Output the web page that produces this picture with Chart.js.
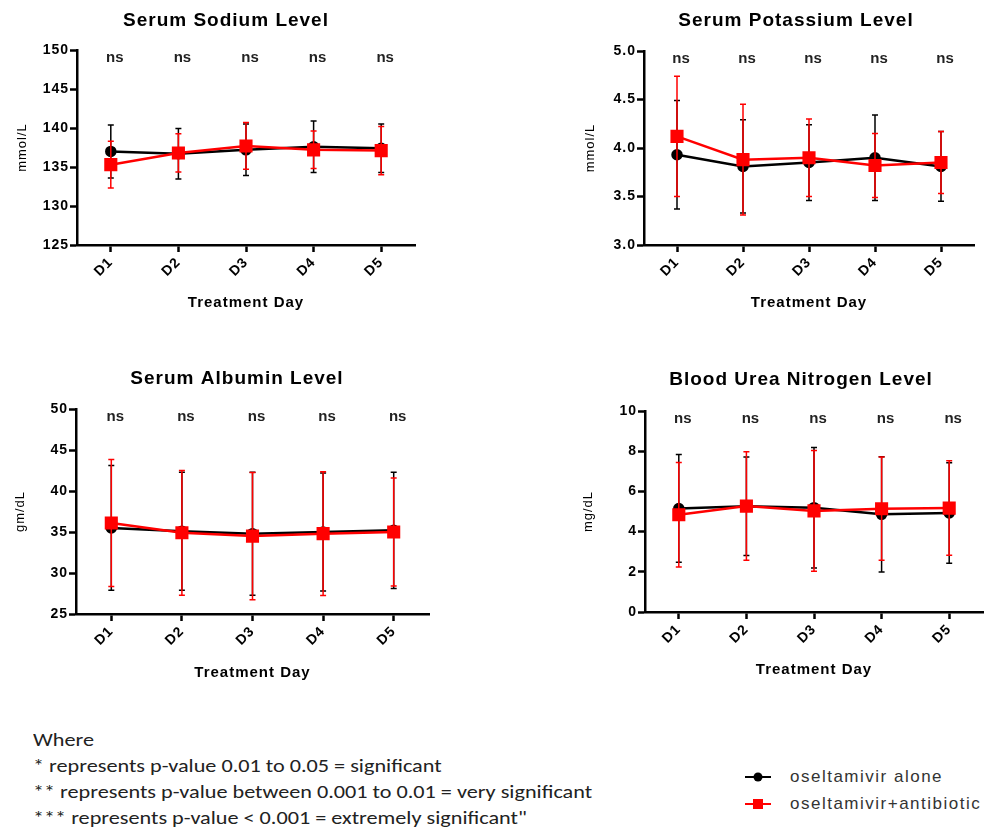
<!DOCTYPE html>
<html lang="en">
<head>
<meta charset="UTF-8">
<title>Serum levels by treatment day</title>
<script src="https://cdn.jsdelivr.net/npm/chart.js"></script>
<style>
    html, body { margin: 0; padding: 0; background: #fff; overflow: hidden; }
    body { width: 984px; height: 829px; position: relative; font-family: "Liberation Sans", Arial, sans-serif; }
    .panel { position: absolute; }
    .notes { position: absolute; left: 33px; top: 727px; font-family: Carlito, Calibri, "Open Sans", sans-serif; font-size: 18px; line-height: 26px; color: #222; white-space: nowrap; transform-origin: 0 0; }
    .legend { position: absolute; left: 745px; top: 763px; font-size: 17px; letter-spacing: 1.5px; color: #333; white-space: nowrap; }
    .legend-row { height: 27px; display: flex; align-items: center; }
    .swatch { position: relative; width: 26px; height: 14px; margin-right: 19px; flex: none; }
    .swatch .ln { position: absolute; left: 0; right: 0; top: 6px; height: 2.5px; }
    .swatch .mk { position: absolute; left: 50%; top: 50%; transform: translate(-50%, -50%); }
</style>
</head>
<body>
<canvas id="sodium" class="panel" width="430" height="320" style="left:0;top:0"></canvas>
<canvas id="potassium" class="panel" width="484" height="320" style="left:500px;top:0"></canvas>
<canvas id="albumin" class="panel" width="440" height="330" style="left:0;top:360px"></canvas>
<canvas id="bun" class="panel" width="493" height="330" style="left:500px;top:360px"></canvas>

<div class="notes" id="notes">
    <div>Where</div>
    <div>* represents p-value 0.01 to 0.05 = significant</div>
    <div id="longNote">** represents p-value between 0.001 to 0.01 = very significant</div>
    <div>*** represents p-value &lt; 0.001 = extremely significant"</div>
</div>
<div class="legend" id="legend"></div>

<script>
    const days = ['D1', 'D2', 'D3', 'D4', 'D5'];
    const seriesNames = ['oseltamivir alone', 'oseltamivir+antibiotic'];
    const seriesColors = ['#000000', '#ff0000'];
    const xTitle = 'Treatment Day';

    // mean and SD per day
    const sodiumAlone = [137.0, 136.7, 137.2, 137.6, 137.4];
    const sodiumAloneSD = [3.4, 3.25, 3.3, 3.3, 3.1];
    const sodiumCombo = [135.3, 136.8, 137.7, 137.2, 137.1];
    const sodiumComboSD = [3.0, 2.45, 3.0, 2.4, 3.1];
    const sodiumSig = ['ns', 'ns', 'ns', 'ns', 'ns'];

    const potassiumAlone = [3.93, 3.81, 3.85, 3.90, 3.81];
    const potassiumAloneSD = [0.56, 0.48, 0.39, 0.44, 0.36];
    const potassiumCombo = [4.12, 3.88, 3.90, 3.82, 3.85];
    const potassiumComboSD = [0.62, 0.57, 0.40, 0.33, 0.32];
    const potassiumSig = ['ns', 'ns', 'ns', 'ns', 'ns'];

    const albuminAlone = [35.5, 35.1, 34.8, 35.0, 35.2];
    const albuminAloneSD = [7.6, 7.2, 7.5, 7.2, 7.1];
    const albuminCombo = [36.1, 34.9, 34.5, 34.8, 35.0];
    const albuminComboSD = [7.75, 7.6, 7.75, 7.55, 6.6];
    const albuminSig = ['ns', 'ns', 'ns', 'ns', 'ns'];

    const bunAlone = [5.15, 5.26, 5.19, 4.86, 4.93];
    const bunAloneSD = [2.68, 2.45, 3.0, 2.87, 2.5];
    const bunCombo = [4.84, 5.27, 5.03, 5.14, 5.17];
    const bunComboSD = [2.6, 2.7, 3.0, 2.57, 2.35];
    const bunSig = ['ns', 'ns', 'ns', 'ns', 'ns'];

    Chart.defaults.font.family = '"Liberation Sans", Arial, sans-serif';
    Chart.defaults.color = '#000';

    // GraphPad-style wide text for title and axes, normal spacing for marks
    const spacingPlugin = {
        id: 'spacing',
        beforeDraw(chart) { chart.ctx.letterSpacing = '1px'; },
        beforeDatasetsDraw(chart) { chart.ctx.letterSpacing = '0px'; }
    };

    const errorBarPlugin = {
        id: 'errorBars',
        afterDatasetDraw(chart, args) {
            const ds = chart.data.datasets[args.index];
            if (!ds.sd) return;
            const y = chart.scales.y;
            const ctx = chart.ctx;
            ctx.save();
            ctx.strokeStyle = ds.borderColor;
            ctx.lineWidth = 1.5;
            args.meta.data.forEach((pt, i) => {
                const top = y.getPixelForValue(ds.data[i] + ds.sd[i]);
                const bot = y.getPixelForValue(ds.data[i] - ds.sd[i]);
                ctx.beginPath();
                ctx.moveTo(pt.x, top); ctx.lineTo(pt.x, bot);
                ctx.moveTo(pt.x - 3, top); ctx.lineTo(pt.x + 3, top);
                ctx.moveTo(pt.x - 3, bot); ctx.lineTo(pt.x + 3, bot);
                ctx.stroke();
            });
            ctx.restore();
        }
    };

    const sigPlugin = {
        id: 'sigLabels',
        afterDatasetsDraw(chart, args, opts) {
            const ctx = chart.ctx;
            const x = chart.scales.x;
            ctx.save();
            ctx.font = 'bold 15px "Liberation Sans", Arial, sans-serif';
            ctx.fillStyle = '#222';
            ctx.textAlign = 'center';
            ctx.textBaseline = 'middle';
            opts.labels.forEach((t, i) => {
                ctx.fillText(t, x.getPixelForValue(i) + 4, chart.chartArea.top + 8);
            });
            ctx.restore();
        }
    };

    function makePanel(id, p) {
        const axisLine = { color: '#000', width: 2.5 };
        const grid = { drawOnChartArea: false, tickLength: 7, tickWidth: 2.5, tickColor: '#000' };
        return new Chart(document.getElementById(id), {
            type: 'line',
            data: {
                labels: days,
                datasets: [{
                    label: seriesNames[0],
                    data: p.alone,
                    sd: p.aloneSD,
                    borderColor: seriesColors[0],
                    backgroundColor: seriesColors[0],
                    borderWidth: 2.5,
                    pointStyle: 'circle',
                    pointRadius: 4.5,
                    order: 1
                }, {
                    label: seriesNames[1],
                    data: p.combo,
                    sd: p.comboSD,
                    borderColor: seriesColors[1],
                    backgroundColor: seriesColors[1],
                    borderWidth: 2.5,
                    pointStyle: 'rect',
                    pointRadius: 7.5,
                    order: 0
                }]
            },
            options: {
                responsive: false,
                animation: false,
                layout: { padding: { left: p.padL, right: p.padR, top: 0, bottom: 0 } },
                plugins: {
                    legend: { display: false },
                    tooltip: { enabled: false },
                    title: {
                        display: true,
                        text: p.title,
                        color: '#000',
                        font: { size: 19, weight: 'bold' },
                        padding: { top: p.titleY - 11.4, bottom: p.top - p.titleY - 11.4 }
                    },
                    sigLabels: { labels: p.sig }
                },
                scales: {
                    x: {
                        offset: true,
                        grid: grid,
                        border: axisLine,
                        ticks: { minRotation: 45, maxRotation: 45, padding: 2, color: '#000', font: { size: 14, weight: 'bold' } },
                        title: { display: true, text: xTitle, color: '#000', font: { size: 15, weight: 'bold' }, padding: { top: 0, bottom: p.xTitlePad } },
                        afterFit(s) { s.height = p.xh; }
                    },
                    y: {
                        min: p.min,
                        max: p.max,
                        grid: grid,
                        border: axisLine,
                        ticks: {
                            stepSize: p.step,
                            padding: 1,
                            color: '#000',
                            font: { size: 14, weight: 'bold' },
                            callback: v => v.toFixed(p.dec)
                        },
                        title: { display: true, text: p.yTitle, color: '#000', font: { size: 13 }, padding: { top: p.yTitleOff - 7.8, bottom: 0 } },
                        afterFit(s) { s.width = p.yw; }
                    }
                }
            },
            plugins: [spacingPlugin, errorBarPlugin, sigPlugin]
        });
    }

    makePanel('sodium', {
        title: 'Serum Sodium Level', yTitle: 'mmol/L', min: 125, max: 150, step: 5, dec: 0,
        alone: sodiumAlone, aloneSD: sodiumAloneSD, combo: sodiumCombo, comboSD: sodiumComboSD, sig: sodiumSig,
        padL: 37, padR: 15, yw: 40, yTitleOff: -15, top: 50, titleY: 21, xh: 75, xTitlePad: 8
    });
    makePanel('potassium', {
        title: 'Serum Potassium Level', yTitle: 'mmol/L', min: 3, max: 5, step: 0.5, dec: 1,
        alone: potassiumAlone, aloneSD: potassiumAloneSD, combo: potassiumCombo, comboSD: potassiumComboSD, sig: potassiumSig,
        padL: 110, padR: 2, yw: 34, yTitleOff: -20, top: 51, titleY: 21, xh: 75, xTitlePad: 8
    });
    makePanel('albumin', {
        title: 'Serum Albumin Level', yTitle: 'gm/dL', min: 25, max: 50, step: 5, dec: 0,
        alone: albuminAlone, aloneSD: albuminAloneSD, combo: albuminCombo, comboSD: albuminComboSD, sig: albuminSig,
        padL: 45, padR: 11, yw: 31, yTitleOff: -25, top: 49, titleY: 19, xh: 76, xTitlePad: 8
    });
    makePanel('bun', {
        title: 'Blood Urea Nitrogen Level', yTitle: 'mg/dL', min: 0, max: 10, step: 2, dec: 0,
        alone: bunAlone, aloneSD: bunAloneSD, combo: bunCombo, comboSD: bunComboSD, sig: bunSig,
        padL: 109, padR: 0, yw: 36, yTitleOff: -21, top: 51, titleY: 20, xh: 78, xTitlePad: 11
    });

    // the footnote in the figure is set wide; stretch it so the long line ends near x=592
    const notes = document.getElementById('notes');
    const longW = document.getElementById('longNote').getBoundingClientRect().width;
    const range = document.createRange();
    range.selectNodeContents(document.getElementById('longNote'));
    const textW = range.getBoundingClientRect().width || longW;
    notes.style.transform = 'scaleX(' + (559 / textW).toFixed(3) + ')';

    // legend for the whole figure
    const legend = document.getElementById('legend');
    seriesNames.forEach((name, i) => {
        const row = document.createElement('div');
        row.className = 'legend-row';
        const mk = i === 0
            ? `<div class="mk" style="width:9px;height:9px;border-radius:50%;background:${seriesColors[i]}"></div>`
            : `<div class="mk" style="width:10px;height:10px;background:${seriesColors[i]}"></div>`;
        row.innerHTML = `<div class="swatch"><div class="ln" style="background:${seriesColors[i]}"></div>${mk}</div><span>${name}</span>`;
        legend.appendChild(row);
    });
</script>
</body>
</html>
